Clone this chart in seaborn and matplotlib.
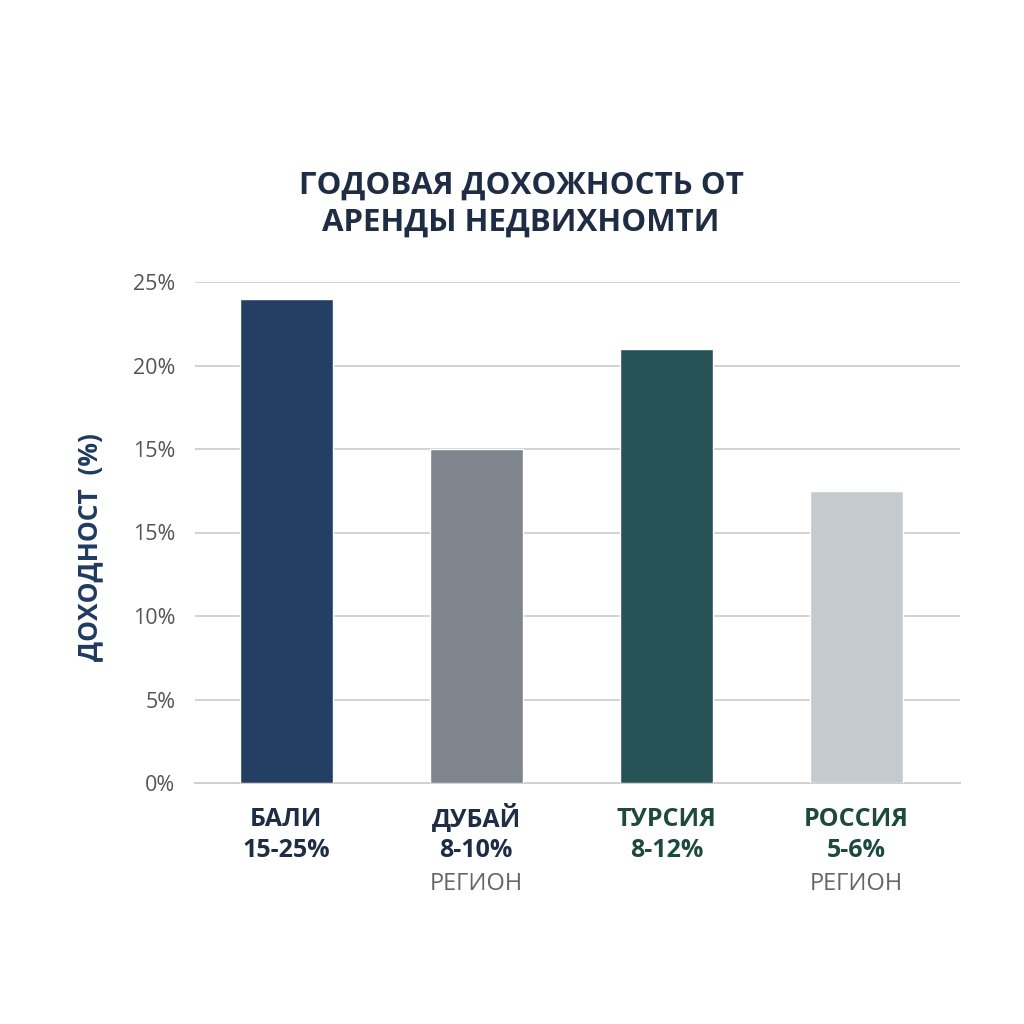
import matplotlib
matplotlib.use("Agg")
import matplotlib.pyplot as plt
import matplotlib.font_manager as fm
import pandas as pd
import seaborn as sns

CATEGORIES = ["БАЛИ", "ДУБАЙ", "ТУРСИЯ", "РОССИЯ"]
RANGES = ["15-25%", "8-10%", "8-12%", "5-6%"]
SUBLABELS = ["", "РЕГИОН", "", "РЕГИОН"]
# bar heights in axis units (grid steps of 5)
VALUES = [29.0, 20.0, 26.0, 17.5]
YTICKS = [0, 5, 10, 15, 20, 25, 30]
YTICK_LABELS = ["0%", "5%", "10%", "15%", "15%", "20%", "25%"]

BAR_COLORS = ["#233F63", "#7F858C", "#275357", "#C5CACE"]
LABEL_COLORS = ["#1F2D44", "#1F2D44", "#1E4A3E", "#1E4A3E"]
TITLE = "ГОДОВАЯ ДОХОЖНОСТЬ ОТ\nАРЕНДЫ НЕДВИХНОМТИ"
YLABEL = "ДОХОДНОСТ  (%)"

installed = {f.name for f in fm.fontManager.ttflist}
NARROW = "Liberation Sans Narrow" if "Liberation Sans Narrow" in installed else "Open Sans"

sns.set_theme(style="white")
plt.rcParams["font.family"] = ["Open Sans", "DejaVu Sans"]

df = pd.DataFrame({"region": CATEGORIES, "value": VALUES})

fig = plt.figure(figsize=(10.24, 10.24), dpi=100)
fig.patch.set_facecolor("white")
ax = fig.add_axes([195 / 1024, 1 - 783 / 1024, 765 / 1024, 501 / 1024])

sns.barplot(data=df, x="region", y="value", hue="region", palette=BAR_COLORS,
            width=0.49, legend=False, saturation=1, ax=ax, zorder=3)

ax.set_xlim(-0.48, 3.545)
ax.set_ylim(0, 30)
ax.set_yticks(YTICKS)
ax.set_yticklabels(YTICK_LABELS)
ax.yaxis.grid(True, color="#D2D2D2", linewidth=1.4, zorder=0)
ax.tick_params(axis="y", length=0, pad=14, labelsize=15.5, labelcolor="#555555")

ax.set_xticks([0.5, 1.5, 2.5, 3.545])
ax.set_xticklabels([])
ax.tick_params(axis="x", direction="out", length=12, width=1.2, color="#CFCFCF")
ax.set_xlabel("")
ax.set_ylabel("")

for side in ["top", "right", "left"]:
    ax.spines[side].set_visible(False)
ax.spines["bottom"].set_color("#CFCFCF")
ax.spines["bottom"].set_linewidth(1.4)

trans = ax.get_xaxis_transform()
for i, (name, rng, sub) in enumerate(zip(CATEGORIES, RANGES, SUBLABELS)):
    ax.text(i, -0.0858, name, transform=trans, ha="center", va="baseline",
            fontsize=18, fontweight="bold", family=NARROW, color=LABEL_COLORS[i])
    ax.text(i, -0.1477, rng, transform=trans, ha="center", va="baseline",
            fontsize=18, fontweight="bold", family=NARROW, color=LABEL_COLORS[i])
    if sub:
        ax.text(i, -0.2136, sub, transform=trans, ha="center", va="baseline",
                fontsize=17, family=NARROW, color="#666666")

fig.text(521 / 1024, 1 - 204 / 1024, TITLE, ha="center", va="center",
         fontsize=22.5, fontweight="bold", family=NARROW, color="#1F2D44",
         linespacing=1.3)
fig.text(90 / 1024, 1 - 547 / 1024, YLABEL, ha="center", va="center",
         rotation=90, fontsize=19, fontweight="bold", family=NARROW,
         color="#1F3A5F")

fig.savefig("out.png", dpi=100, facecolor="white")
